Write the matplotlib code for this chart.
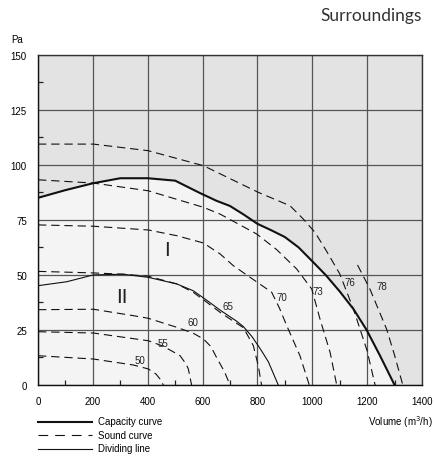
import matplotlib
matplotlib.use("Agg")
import matplotlib.pyplot as plt
from matplotlib.lines import Line2D

# ── Data ──────────────────────────────────────────────────────────────────

X_TICKS = [0, 200, 400, 600, 800, 1000, 1200, 1400]
Y_TICKS = [0, 25, 50, 75, 100, 125, 150]

# Capacity curve (thick solid)
cap_x = [0, 100, 200, 300, 400, 500, 590, 650, 700, 750, 800, 850, 900, 950,
         1000, 1050, 1100, 1150, 1198, 1247, 1300]
cap_y = [85, 88.5, 91.6, 93.9, 93.9, 92.8, 87.2, 83.7, 81.3, 77.4, 73.2, 70.3, 67.2, 62.5,
         56.2, 49.8, 42.5, 34.5, 25.0, 13.3, 0]

# Dividing line (thin solid)
div_x = [0, 105, 202, 311, 402, 506, 566, 615, 664, 724, 749, 780, 810, 840, 876]
div_y = [45.1, 46.9, 50.0, 50.3, 48.9, 45.9, 42.8, 38.5, 34.0, 29.0, 26.5, 22.0, 16.5, 10.5, 0]

# Sound curves (dashed), keyed by dB(A) level
snd_50_x = [0, 202, 347, 402, 430, 445, 457]
snd_50_y = [13.3, 11.8, 9.1, 7.3, 5.0, 2.7, 0]

snd_55_x = [0, 202, 402, 457, 518, 540, 548, 560]
snd_55_y = [24.2, 23.6, 20.1, 17.6, 13.3, 9.5, 7.3, 0]

snd_60_x = [0, 202, 347, 402, 506, 566, 603, 630, 651, 680, 700]
snd_60_y = [34.2, 34.4, 31.5, 30.3, 26.2, 23.5, 20.9, 17.5, 12.5, 6.0, 0]

snd_65_x = [0, 202, 311, 402, 506, 566, 615, 664, 700, 749, 785, 803, 815]
snd_65_y = [51.6, 50.9, 50.3, 49.4, 45.9, 42.1, 37.6, 33.0, 30.0, 26.0, 17.9, 8.8, 0]

snd_70_x = [0, 202, 402, 506, 603, 664, 712, 800, 852, 880, 907, 955, 989]
snd_70_y = [72.7, 72.1, 70.4, 67.8, 64.5, 59.5, 54.2, 46.6, 42.1, 35.0, 26.9, 13.3, 0]

snd_73_x = [0, 202, 402, 603, 664, 797, 870, 943, 998, 1028, 1065, 1089]
snd_73_y = [93.2, 91.7, 88.2, 80.7, 77.6, 68.6, 61.5, 52.7, 43.6, 30.0, 14.8, 0]

snd_76_x = [0, 202, 402, 603, 803, 919, 967, 1010, 1052, 1100, 1150, 1174, 1200, 1229]
snd_76_y = [109.4, 109.4, 106.4, 99.6, 87.5, 81.4, 75.4, 69.3, 60.8, 50.5, 34.5, 25.4, 15.5, 0]

snd_78_x = [1165, 1210, 1271, 1300, 1330]
snd_78_y = [54.5, 43.6, 25.4, 13.5, 0]

SOUND_LEVELS = ["50", "55", "60", "65", "70", "73", "76", "78"]
SOUND_CURVES = [(snd_50_x, snd_50_y), (snd_55_x, snd_55_y), (snd_60_x, snd_60_y),
                (snd_65_x, snd_65_y), (snd_70_x, snd_70_y), (snd_73_x, snd_73_y),
                (snd_76_x, snd_76_y), (snd_78_x, snd_78_y)]

# where each level number sits (data coords)
LABEL_POS = [(372, 11.5), (457, 19.0), (566, 28.5), (694, 36.0),
             (889, 40.0), (1022, 42.5), (1138, 47.0), (1253, 45.0)]

# ── Style ─────────────────────────────────────────────────────────────────

plt.rcParams["font.family"] = ["Liberation Sans", "DejaVu Sans"]
plt.rcParams["lines.scale_dashes"] = False

BG_DARK = "#e3e3e3"
BG_LIGHT = "#f4f4f4"
GRID = "#555555"
DASH = (6, 3.5)

fig = plt.figure(figsize=(4.35, 4.64), dpi=100)
ax = fig.add_axes([38 / 435, 1 - 386 / 464, 384 / 435, 330.3 / 464])

ax.set_facecolor(BG_DARK)
ax.fill_between(cap_x, cap_y, 0, color=BG_LIGHT, lw=0, zorder=0)

ax.set_xlim(0, 1400)
ax.set_ylim(0, 150)
ax.set_xticks(X_TICKS)
ax.set_yticks(Y_TICKS)
ax.set_xticks(range(100, 1400, 200), minor=True)
ax.set_yticks([12.5 + 25 * i for i in range(6)], minor=True)
ax.grid(True, which="major", color=GRID, lw=0.9, zorder=1)
ax.tick_params(which="major", length=0, labelsize=7, pad=8)
ax.tick_params(which="minor", direction="in", length=3.5, width=0.9, color="#222222")
for sp in ax.spines.values():
    sp.set_color("#333333")
    sp.set_linewidth(1.0)
ax.spines["left"].set_color("#111111")
ax.spines["bottom"].set_color("#111111")

# curves
ax.plot(cap_x, cap_y, color="#111111", lw=1.5, zorder=4)
ax.plot(div_x, div_y, color="#111111", lw=0.8, zorder=3)
for (sx, sy), lvl, (lx, ly) in zip(SOUND_CURVES, SOUND_LEVELS, LABEL_POS):
    ax.plot(sx, sy, color="#111111", lw=0.8, dashes=DASH, zorder=3)
    ax.text(lx, ly, lvl, fontsize=7, color="#222222", ha="center", va="center", zorder=5)

# region marks
ax.text(472, 61.5, "I", fontsize=15, color="#222222", ha="center", va="center")
ax.text(306, 40, "II", fontsize=15, color="#222222", ha="center", va="center")

# titles / axis captions
fig.text(422 / 435, 1 - 20.7 / 464, "Surroundings", family=["Lato", "DejaVu Sans"],
         fontsize=12.5, color="#333333", ha="right", va="baseline")
fig.text(17 / 435, 1 - 40 / 464, "Pa", fontsize=7, ha="center", va="center")
fig.text(433 / 435, 1 - 422.5 / 464, "Volume (m$^3$/h)", fontsize=7, ha="right", va="center")

# legend drawn by hand under the chart
legend_rows = [("Capacity curve", 1.5, None), ("Sound curve", 0.8, DASH), ("Dividing line", 0.8, None)]
for i, (txt, lw, dash) in enumerate(legend_rows):
    yy = 1 - (422.5 + 13.5 * i) / 464
    ln = Line2D([38 / 435, 92 / 435], [yy, yy], transform=fig.transFigure,
                color="#111111", lw=lw)
    if dash:
        ln.set_dashes((7, 5))
    fig.add_artist(ln)
    fig.text(98 / 435, yy, txt, fontsize=7, ha="left", va="center")

fig.savefig("out.png", dpi=100)
